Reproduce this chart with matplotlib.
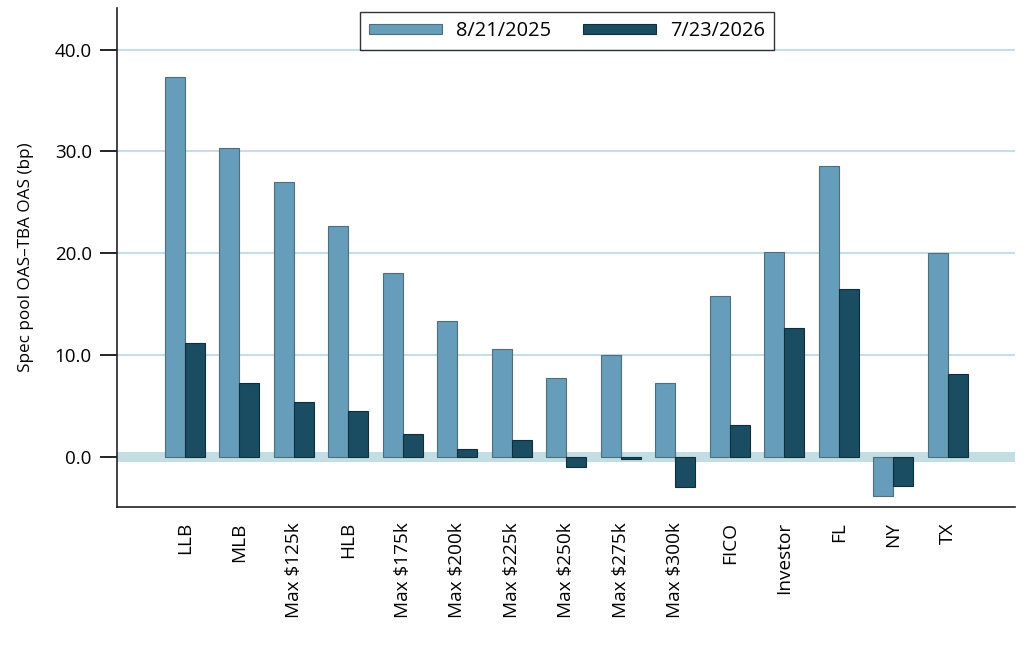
import matplotlib
matplotlib.use("Agg")
import matplotlib.pyplot as plt
import numpy as np

categories = ["LLB", "MLB", "Max $125k", "HLB", "Max $175k", "Max $200k", "Max $225k",
              "Max $250k", "Max $275k", "Max $300k", "FICO", "Investor", "FL", "NY", "TX"]
s2025 = [37.3, 30.3, 27.0, 22.7, 18.1, 13.4, 10.6, 7.8, 10.0, 7.3, 15.8, 20.1, 28.6, -3.8, 20.0]
s2026 = [11.2, 7.3, 5.4, 4.5, 2.3, 0.8, 1.7, -1.0, -0.15, -2.9, 3.1, 12.7, 16.5, -2.8, 8.2]
series_labels = ["8/21/2025", "7/23/2026"]
yticks = [0.0, 10.0, 20.0, 30.0, 40.0]

plt.rcParams['font.family'] = ['Open Sans', 'DejaVu Sans']

fig = plt.figure(figsize=(10.24, 6.55), dpi=100)
ax = fig.add_axes([0.114, 0.226, 0.877, 0.762])

x = np.arange(len(categories))
w = 0.367
light = "#669DBA"
dark = "#1A4D61"
ax.axhspan(-0.45, 0.45, color="#C3DDE5", zorder=0, lw=0)
for t in yticks[1:]:
    ax.axhline(t, color="#C5DFE8", lw=1.5, zorder=0)
ax.bar(x - w/2, s2025, w, color=light, edgecolor="#4F6D7A", linewidth=0.8, label=series_labels[0], zorder=2)
ax.bar(x + w/2, s2026, w, color=dark, edgecolor="#0F2F3C", linewidth=0.8, label=series_labels[1], zorder=2)

ax.set_xlim(-1.25, 15.23)
ax.set_ylim(-4.9, 44.1)
ax.set_yticks(yticks)
ax.set_yticklabels([f"{t:.1f}" for t in yticks], fontsize=13.5)
ax.set_xticks(x)
ax.set_xticklabels(categories, rotation=90, fontsize=13.7)
ax.tick_params(axis='x', length=0, pad=11)
ax.tick_params(axis='y', length=12, width=1.2, direction='out', pad=6)
ax.set_ylabel("Spec pool OAS\u2013TBA OAS (bp)", fontsize=12.3, labelpad=15)

for s in ["top", "right"]:
    ax.spines[s].set_visible(False)
for s in ["left", "bottom"]:
    ax.spines[s].set_linewidth(1.2)
    ax.spines[s].set_color("#222222")

leg = ax.legend(loc="upper center", bbox_to_anchor=(0.501, 0.992), ncol=2, fontsize=14.4,
                frameon=True, fancybox=False, edgecolor="black", handlelength=3.65,
                handleheight=0.4, handletextpad=0.7, columnspacing=1.6, borderpad=0.45,
                borderaxespad=0)
leg.get_frame().set_linewidth(1.0)

fig.savefig("out.png", dpi=100)
